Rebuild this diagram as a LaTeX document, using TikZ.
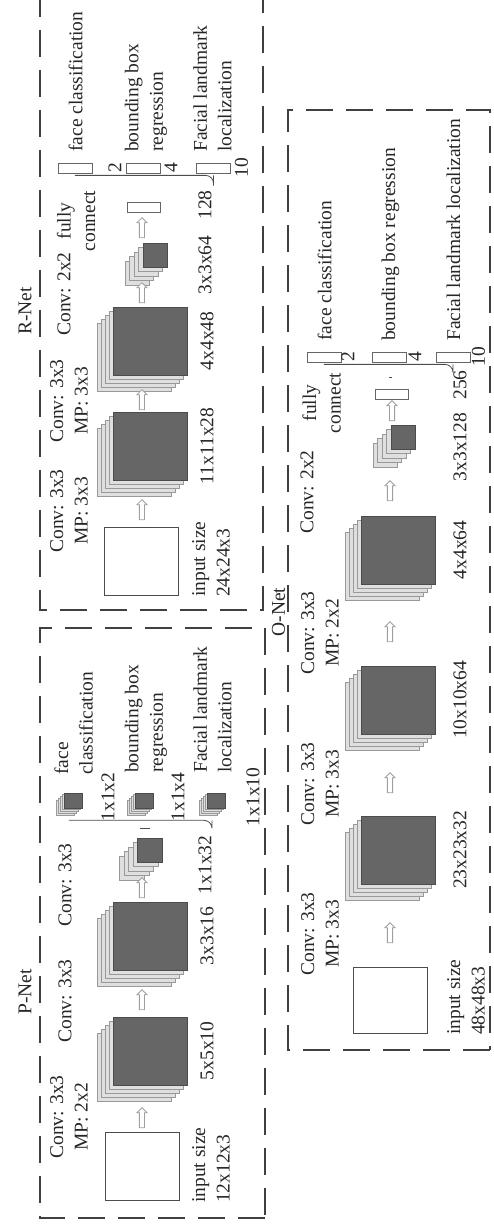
\documentclass[tikz,border=0pt]{standalone}
\usepackage{fontspec}
\setmainfont{Liberation Serif}
\usetikzlibrary{shapes.arrows,calc}

\begin{document}
\begin{tikzpicture}[x=1pt,y=1pt,rotate=90,transform shape]
\tikzset{lbl/.style={font=\fontsize{19.5}{24.5}\selectfont,inner sep=0pt,text=black!85},
  frame/.style={draw=black!75,line width=1.8pt,dash pattern=on 27pt off 13pt},
  inbox/.style={draw=black!70,fill=white,line width=0.8pt,inner sep=0pt,minimum width=68,minimum height=74},
  layer/.style={draw=gray!80,fill=gray!25,line width=0.7pt,inner sep=0pt},
  fmap/.style={draw=black!70,fill=black!60,line width=0.7pt,inner sep=0pt},
  fcbox/.style={draw=black!60,fill=white,line width=0.8pt,inner sep=0pt,minimum width=10,minimum height=34},
  blockarrow/.style={single arrow,draw=gray!75,fill=white,line width=0.8pt,inner sep=2.2pt,
    minimum height=20pt,single arrow head extend=2.5pt},
  brace/.style={draw=black!70,line width=0.8pt,rounded corners=8pt}}

\useasboundingbox (0,0) rectangle (1230,493);

% frames
\draw[frame] (12,228) rectangle (602,453);
\draw[frame] (1240,453) -- (620,453) -- (620,230) -- (1240,230);
\draw[frame] (180,3) rectangle (1120,205);

\path (238,468) node[lbl] (ptitle) {P-Net};
\path (919,468) node[lbl] (rtitle) {R-Net};
\path (618,214.5) node[lbl] (otitle) {O-Net};

% input images
\path (64,351) node[inbox] (pin) {};
\path (669,351.5) node[inbox] (rin) {};
\path (230,103) node[inbox,minimum width=66] (oin) {};

% feature maps
\foreach \n/\u/\v/\w/\h/\d in {p1/179/343/68/74/4, p2/294/343/68/74/4, p3/380/343/24/25/4.5,
    pk1/429.5/420/15/18/1.8, pk2/429.5/349/15/18/1.8, pk3/429.5/277/15/18/1.8,
    r1/784/343/68/74/4, r2/889/343/68/74/4, r3/975/338/24/24/4.5,
    o1/380/95/68/74/4, o2/530/95/68/74/4, o3/680/95/68/74/4, o4/793/90/24/24/4.5}{
  \foreach \k in {4,3,2,1}
    \path (\u-\k*\d,\v+\k*\d) node[layer,minimum width=\w,minimum height=\h] {};
  \path (\u,\v) node[fmap,minimum width=\w,minimum height=\h] (\n) {};
}

% fully connected layers
\path (1023,349.5) node[fcbox,minimum height=33] (rfc) {};
\path (1062,418) node[fcbox] (ro1) {};
\path (1062,349.5) node[fcbox] (ro2) {};
\path (1062,279.5) node[fcbox] (ro3) {};
\path (836,101.5) node[fcbox,minimum height=33] (ofc) {};
\path (873,169) node[fcbox] (oo1) {};
\path (873,104) node[fcbox] (oo2) {};
\path (873,40) node[fcbox] (oo3) {};

% arrows
\path (111,351) node[blockarrow] (pa1) {};
\path (229,351) node[blockarrow] (pa2) {};
\path (341,351) node[blockarrow] (pa3) {};
\path (719,351) node[blockarrow] (ra1) {};
\path (829,351) node[blockarrow] (ra2) {};
\path (936,351) node[blockarrow] (ra3) {};
\path (1001,351) node[blockarrow] (ra4) {};
\path (296,103) node[blockarrow] (oa1) {};
\path (446,103) node[blockarrow] (oa2) {};
\path (597,103) node[blockarrow] (oa3) {};
\path (738,103) node[blockarrow] (oa4) {};
\path (818,101) node[blockarrow] (oa5) {};

% braces
\draw[brace] ($(pk1.west)+(-12,4)$) |- ($(pk3.west)+(-20,4)$) -- ($(pk3.west)+(-12,4)$);
\coordinate (pbm) at ($(pk2.west)+(-20,4)$);
\draw[brace] (pbm |- p3.east) -- (pbm);
\draw[brace] ($(ro1.west)+(-2,0)$) |- ($(ro3.west)+(-17,0)$) -- ($(ro3.west)+(-2,0)$);
\coordinate (rbm) at ($(ro2.west)+(-17,0)$);
\draw[brace] (rbm |- rfc.east) -- (rbm);
\draw[brace] ($(oo1.west)+(-2,0)$) |- ($(oo3.west)+(-15,0)$) -- ($(oo3.west)+(-2,0)$);
\coordinate (obm) at ($(oo2.west)+(-15,0)$);
\draw[brace] (obm |- ofc.east) -- (obm);

% P-Net labels
\path (27,282) node[lbl,anchor=west,align=left] (pintxt) {input size\\12x12x3};
\path (113,424) node[lbl,align=center] (pconv1) {Conv: 3x3\\MP: 2x2};
\path (229,428) node[lbl] (pconv2) {Conv: 3x3};
\path (345,428) node[lbl] (pconv3) {Conv: 3x3};
\path (179,286) node[lbl] (pdim1) {5x5x10};
\path (294,286) node[lbl] (pdim2) {3x3x16};
\path (365,288) node[lbl] (pdim3) {1x1x32};
\path (433,385) node[lbl] (pdim4) {1x1x2};
\path (433,315) node[lbl] (pdim5) {1x1x4};
\path (433,240) node[lbl] (pdim6) {1x1x10};
\path (455,419.5) node[lbl,anchor=west,align=left] (pout1) {face\\classification};
\path (457,347) node[lbl,anchor=west,align=left] (pout2) {bounding box\\regression};
\path (457,280.5) node[lbl,anchor=west,align=left] (pout3) {Facial landmark\\localization};

% R-Net labels
\path (633,282) node[lbl,anchor=west,align=left] (rintxt) {input size\\24x24x3};
\path (719,424) node[lbl,align=center] (rconv1) {Conv: 3x3\\MP: 3x3};
\path (829,424) node[lbl,align=center] (rconv2) {Conv: 3x3\\MP: 3x3};
\path (936,429) node[lbl] (rconv3) {Conv: 2x2};
\path (784,286) node[lbl] (rdim1) {11x11x28};
\path (889,286) node[lbl] (rdim2) {4x4x48};
\path (965,288) node[lbl] (rdim3) {3x3x64};
\path (1009,417) node[lbl,align=center] (rfctxt) {fully\\connect};
\path (1025,288) node[lbl] (rdim4) {128};
\path (1062,378) node[lbl] (rn1) {2};
\path (1062,322) node[lbl] (rn2) {4};
\path (1062,251.5) node[lbl] (rn3) {10};
\path (1078,417.5) node[lbl,anchor=west] (rout1) {face classification};
\path (1078,347) node[lbl,anchor=west,align=left] (rout2) {bounding box\\regression};
\path (1078,280.5) node[lbl,anchor=west,align=left] (rout3) {Facial landmark\\localization};

% O-Net labels
\path (195,27) node[lbl,anchor=west,align=left] (ointxt) {input size\\48x48x3};
\path (296,173) node[lbl,align=center] (oconv1) {Conv: 3x3\\MP: 3x3};
\path (446,173) node[lbl,align=center] (oconv2) {Conv: 3x3\\MP: 3x3};
\path (597,173) node[lbl,align=center] (oconv3) {Conv: 3x3\\MP: 2x2};
\path (738,186) node[lbl] (oconv4) {Conv: 2x2};
\path (380,33) node[lbl] (odim1) {23x23x32};
\path (530,33) node[lbl] (odim2) {10x10x64};
\path (680,33) node[lbl] (odim3) {4x4x64};
\path (783,33) node[lbl] (odim4) {3x3x128};
\path (827,171.5) node[lbl,align=center] (ofctxt) {fully\\connect};
\path (845,33) node[lbl] (odim5) {256};
\path (873,145) node[lbl] (on1) {2};
\path (873,78) node[lbl] (on2) {4};
\path (873,14.5) node[lbl] (on3) {10};
\path (889,168.5) node[lbl,anchor=west] (oout1) {face classification};
\path (889,102.5) node[lbl,anchor=west] (oout2) {bounding box regression};
\path (889,39.5) node[lbl,anchor=west] (oout3) {Facial landmark localization};

\end{tikzpicture}
\end{document}
